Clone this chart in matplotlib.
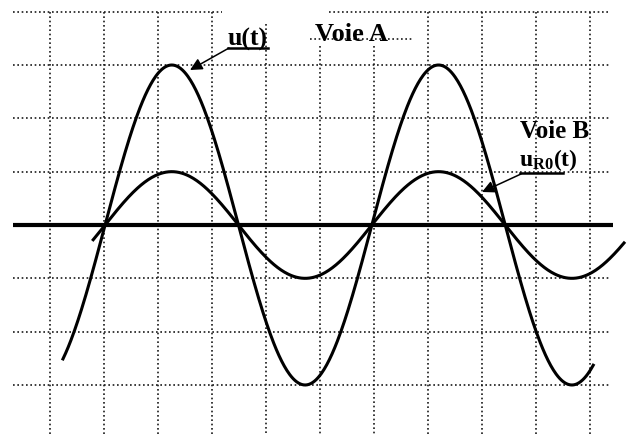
import numpy as np
import matplotlib
matplotlib.use('Agg')
from matplotlib import pyplot as plt

# oscilloscope screen, in divisions (x: time, y: voltage)
x_grid = [0, 1, 2, 3, 4, 5, 6, 7, 8, 9, 10]
y_grid = [3, 2, 1, -1, -2, -3]

u_amp = 3.0          # u(t) peak, divisions
ur_amp = 1.0         # uR0(t) peak, divisions
period = 4.94        # divisions
t0 = 1.02            # rising zero crossing
u_span = [0.24, 10.06]
ur_span = [0.80, 10.63]

# pixel -> division helpers (image is 632x435)
def X(px):
    return (px - 50) / 54.0

def Y(py):
    return (226 - py) / 53.33


plt.rcParams['mathtext.fontset'] = 'custom'
plt.rcParams['mathtext.rm'] = 'Liberation Serif:bold'
plt.rcParams['mathtext.bf'] = 'Liberation Serif:bold'
plt.rcParams['mathtext.it'] = 'Liberation Serif:bold'

fig = plt.figure(figsize=(6.32, 4.35), dpi=100)
ax = fig.add_axes([0, 0, 1, 1])
ax.set_xlim(X(0), X(632))
ax.set_ylim(Y(435), Y(0))
ax.axis('off')

dot = dict(color='#1a1a1a', lw=1.2, linestyle=(0, (1, 1.6)))

# horizontal grid
for y in y_grid:
    ax.plot([X(13), X(609)], [y, y], **dot)
# top line is broken under the labels
ax.plot([X(13), X(222)], [4, 4], **dot)
ax.plot([X(329), X(609)], [4, 4], **dot)
ax.plot([X(310), X(412)], [Y(40), Y(40)], **dot)

# vertical grid
for x in x_grid:
    top = Y(13)
    if x == 4:
        top = Y(25)
    elif x in (5, 6):
        top = Y(47)
    ax.plot([x, x], [top, Y(435)], **dot)

# time axis
ax.plot([X(13), X(613)], [0, 0], color='black', lw=3.0, solid_capstyle='butt')

# signals
t = np.linspace(u_span[0], u_span[1], 600)
ax.plot(t, u_amp * np.sin(2 * np.pi * (t - t0) / period), color='black', lw=2.2)
t = np.linspace(ur_span[0], ur_span[1], 600)
ax.plot(t, ur_amp * np.sin(2 * np.pi * (t - t0) / period), color='black', lw=2.2)

font = dict(family='Liberation Serif', weight='bold', color='black',
            ha='left', va='baseline')

ax.text(X(228), Y(46), 'u(t)', fontsize=18.5, **font)
ax.plot([X(228), X(268)], [Y(49), Y(49)], color='black', lw=1.8)
ax.annotate('', xy=(X(190), Y(71)), xytext=(X(229), Y(49)),
            arrowprops=dict(arrowstyle='-|>', color='black', lw=1.1,
                            mutation_scale=18, shrinkA=0, shrinkB=0))

ax.text(X(315), Y(41), 'Voie A', fontsize=19, **font)
ax.text(X(520), Y(138), 'Voie B', fontsize=18, **font)
ax.text(X(519), Y(166), r'$\mathbf{u_{R0}(t)}$', fontsize=17, **font)
ax.plot([X(520), X(563)], [Y(174), Y(174)], color='black', lw=1.8)
ax.annotate('', xy=(X(482), Y(193)), xytext=(X(521), Y(175)),
            arrowprops=dict(arrowstyle='-|>', color='black', lw=1.1,
                            mutation_scale=18, shrinkA=0, shrinkB=0))

fig.savefig('out.png', dpi=100, facecolor='white')
